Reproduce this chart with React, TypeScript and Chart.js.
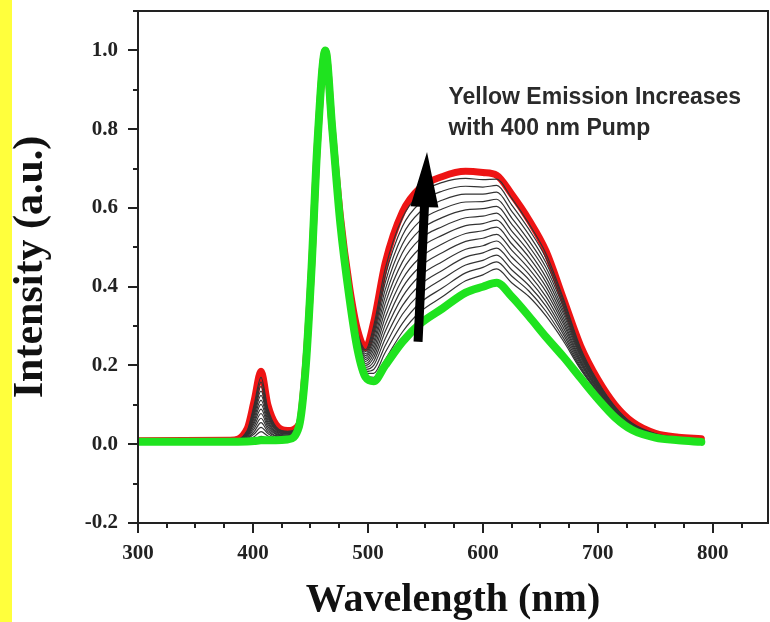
import React, { useEffect, useRef } from "react";
import { Chart, registerables } from "chart.js";

Chart.register(...registerables);

// Wavelength grid (nm) shared by all spectra
const wavelengths = [300, 380, 395, 401, 407, 413, 420, 430, 440, 446, 451, 456, 463, 469, 476, 484, 491, 498, 505, 515, 530, 545, 565, 585, 600, 612, 625, 640, 655, 670, 685, 700, 715, 730, 750, 770, 790];

// Highest spectrum (red)
const redSpectrum = [0.009, 0.01, 0.04, 0.11, 0.185, 0.10, 0.05, 0.035, 0.05, 0.21, 0.45, 0.76, 1.0, 0.8, 0.58, 0.40, 0.29, 0.245, 0.31, 0.46, 0.59, 0.65, 0.68, 0.693, 0.69, 0.683, 0.635, 0.57, 0.49, 0.37, 0.25, 0.165, 0.10, 0.057, 0.028, 0.018, 0.014];

// Lowest spectrum (green)
const greenSpectrum = [0.006, 0.006, 0.007, 0.008, 0.01, 0.01, 0.01, 0.012, 0.045, 0.2, 0.45, 0.76, 1.0, 0.8, 0.56, 0.37, 0.24, 0.17, 0.16, 0.2, 0.26, 0.305, 0.345, 0.385, 0.40, 0.41, 0.375, 0.325, 0.272, 0.222, 0.168, 0.115, 0.068, 0.036, 0.017, 0.01, 0.006];

// Intermediate spectra (gray)
const gray01 = [0.009, 0.009, 0.010, 0.012, 0.020, 0.015, 0.012, 0.014, 0.048, 0.2, 0.45, 0.76, 1.0, 0.8, 0.57, 0.38, 0.245, 0.175, 0.17, 0.215, 0.285, 0.335, 0.375, 0.415, 0.430, 0.445, 0.410, 0.375, 0.325, 0.262, 0.190, 0.130, 0.076, 0.040, 0.020, 0.012, 0.008];
const gray02 = [0.009, 0.009, 0.012, 0.019, 0.032, 0.021, 0.015, 0.015, 0.048, 0.2, 0.45, 0.76, 1.0, 0.8, 0.57, 0.38, 0.248, 0.180, 0.18, 0.233, 0.307, 0.358, 0.397, 0.435, 0.449, 0.463, 0.427, 0.389, 0.337, 0.270, 0.194, 0.132, 0.077, 0.041, 0.021, 0.012, 0.008];
const gray03 = [0.009, 0.009, 0.014, 0.026, 0.043, 0.027, 0.017, 0.017, 0.048, 0.2, 0.45, 0.76, 1.0, 0.8, 0.57, 0.38, 0.251, 0.185, 0.19, 0.250, 0.330, 0.381, 0.420, 0.455, 0.467, 0.480, 0.443, 0.403, 0.350, 0.279, 0.198, 0.134, 0.079, 0.042, 0.021, 0.013, 0.009];
const gray04 = [0.009, 0.009, 0.016, 0.032, 0.055, 0.032, 0.020, 0.018, 0.048, 0.2, 0.45, 0.76, 1.0, 0.8, 0.57, 0.38, 0.254, 0.190, 0.20, 0.268, 0.352, 0.404, 0.442, 0.475, 0.486, 0.498, 0.460, 0.418, 0.362, 0.287, 0.203, 0.137, 0.080, 0.043, 0.022, 0.013, 0.009];
const gray05 = [0.009, 0.009, 0.018, 0.039, 0.066, 0.038, 0.022, 0.020, 0.048, 0.2, 0.45, 0.76, 1.0, 0.8, 0.57, 0.38, 0.257, 0.195, 0.21, 0.286, 0.374, 0.427, 0.464, 0.495, 0.504, 0.516, 0.476, 0.432, 0.374, 0.296, 0.207, 0.139, 0.082, 0.044, 0.022, 0.013, 0.009];
const gray06 = [0.009, 0.009, 0.020, 0.046, 0.078, 0.044, 0.025, 0.021, 0.048, 0.2, 0.45, 0.76, 1.0, 0.8, 0.57, 0.38, 0.260, 0.200, 0.22, 0.303, 0.397, 0.450, 0.487, 0.515, 0.523, 0.533, 0.493, 0.446, 0.387, 0.305, 0.211, 0.141, 0.083, 0.045, 0.023, 0.014, 0.010];
const gray07 = [0.009, 0.009, 0.022, 0.053, 0.089, 0.050, 0.027, 0.023, 0.048, 0.2, 0.45, 0.76, 1.0, 0.8, 0.57, 0.38, 0.263, 0.205, 0.23, 0.321, 0.419, 0.473, 0.509, 0.535, 0.542, 0.551, 0.509, 0.460, 0.399, 0.313, 0.215, 0.143, 0.085, 0.046, 0.023, 0.014, 0.010];
const gray08 = [0.009, 0.009, 0.023, 0.059, 0.101, 0.055, 0.030, 0.024, 0.048, 0.2, 0.45, 0.76, 1.0, 0.8, 0.57, 0.39, 0.267, 0.210, 0.24, 0.339, 0.441, 0.497, 0.531, 0.555, 0.560, 0.569, 0.526, 0.475, 0.411, 0.322, 0.220, 0.146, 0.086, 0.047, 0.024, 0.015, 0.011];
const gray09 = [0.009, 0.009, 0.025, 0.066, 0.112, 0.061, 0.032, 0.026, 0.048, 0.2, 0.45, 0.76, 1.0, 0.8, 0.57, 0.39, 0.270, 0.215, 0.25, 0.357, 0.463, 0.520, 0.553, 0.575, 0.579, 0.587, 0.542, 0.489, 0.423, 0.331, 0.224, 0.148, 0.088, 0.048, 0.024, 0.015, 0.011];
const gray10 = [0.009, 0.009, 0.027, 0.073, 0.124, 0.067, 0.035, 0.027, 0.048, 0.2, 0.45, 0.76, 1.0, 0.8, 0.57, 0.39, 0.273, 0.220, 0.26, 0.374, 0.486, 0.543, 0.576, 0.595, 0.598, 0.604, 0.559, 0.503, 0.436, 0.339, 0.228, 0.150, 0.089, 0.049, 0.025, 0.015, 0.011];
const gray11 = [0.009, 0.009, 0.029, 0.080, 0.135, 0.073, 0.037, 0.029, 0.048, 0.2, 0.45, 0.76, 1.0, 0.8, 0.57, 0.39, 0.276, 0.225, 0.27, 0.392, 0.508, 0.566, 0.598, 0.615, 0.616, 0.622, 0.575, 0.517, 0.448, 0.348, 0.232, 0.152, 0.091, 0.050, 0.025, 0.016, 0.012];
const gray12 = [0.009, 0.009, 0.031, 0.086, 0.147, 0.078, 0.040, 0.030, 0.048, 0.2, 0.45, 0.76, 1.0, 0.8, 0.57, 0.39, 0.279, 0.230, 0.28, 0.410, 0.530, 0.589, 0.620, 0.635, 0.635, 0.640, 0.592, 0.532, 0.460, 0.356, 0.236, 0.155, 0.092, 0.051, 0.026, 0.016, 0.012];
const gray13 = [0.009, 0.009, 0.033, 0.093, 0.158, 0.084, 0.042, 0.032, 0.048, 0.2, 0.45, 0.76, 1.0, 0.8, 0.57, 0.39, 0.282, 0.235, 0.29, 0.427, 0.553, 0.612, 0.643, 0.655, 0.653, 0.657, 0.608, 0.546, 0.472, 0.364, 0.240, 0.157, 0.094, 0.052, 0.026, 0.017, 0.013];
const gray14 = [0.009, 0.009, 0.035, 0.100, 0.170, 0.090, 0.045, 0.033, 0.048, 0.2, 0.45, 0.76, 1.0, 0.8, 0.57, 0.39, 0.285, 0.240, 0.30, 0.445, 0.575, 0.635, 0.665, 0.675, 0.672, 0.673, 0.625, 0.560, 0.483, 0.370, 0.244, 0.159, 0.095, 0.053, 0.027, 0.017, 0.013];

const grayCurves = [gray01, gray02, gray03, gray04, gray05, gray06, gray07, gray08, gray09, gray10, gray11, gray12, gray13, gray14];

// Axis ticks
const xTickValues = [300, 400, 500, 600, 700, 800];
const yTickValues = [-0.2, 0.0, 0.2, 0.4, 0.6, 0.8, 1.0];
const xMinorStep = 25;
const yMinorStep = 0.1;

// Text
const xTitle = "Wavelength (nm)";
const yTitle = "Intensity (a.u.)";
const annotationLines = ["Yellow Emission Increases", "with 400 nm Pump"];

const SERIF = "'Liberation Serif', 'Times New Roman', serif";
const SANS = "'Liberation Sans', Arial, sans-serif";

const toPoints = (arr: number[]) => arr.map((v, i) => ({ x: wavelengths[i], y: v }));

const decorPlugin = {
  id: "decor",
  beforeDraw(chart: any) {
    const { ctx, width, height } = chart;
    ctx.save();
    ctx.fillStyle = "#ffffff";
    ctx.fillRect(0, 0, width, height);
    ctx.fillStyle = "#ffff3c";
    ctx.fillRect(0, 0, 12, height);
    ctx.restore();
  },
  afterDatasetsDraw(chart: any) {
    const { ctx } = chart;
    const xs = chart.scales.x;
    const ys = chart.scales.y;
    // Arrow
    const x0 = xs.getPixelForValue(543.6);
    const y0 = ys.getPixelForValue(0.26);
    const x1 = xs.getPixelForValue(551.4);
    const y1 = ys.getPixelForValue(0.742);
    const dx = x1 - x0;
    const dy = y1 - y0;
    const len = Math.hypot(dx, dy);
    const ux = dx / len;
    const uy = dy / len;
    const px = -uy;
    const py = ux;
    const headLen = 55;
    const headHalf = 14;
    const shaftHalf = 4.5;
    const bx = x1 - ux * headLen;
    const by = y1 - uy * headLen;
    ctx.save();
    ctx.fillStyle = "#000000";
    ctx.beginPath();
    ctx.moveTo(x0 + px * shaftHalf, y0 + py * shaftHalf);
    ctx.lineTo(bx + px * shaftHalf, by + py * shaftHalf);
    ctx.lineTo(bx + px * headHalf, by + py * headHalf);
    ctx.lineTo(x1, y1);
    ctx.lineTo(bx - px * headHalf, by - py * headHalf);
    ctx.lineTo(bx - px * shaftHalf, by - py * shaftHalf);
    ctx.lineTo(x0 - px * shaftHalf, y0 - py * shaftHalf);
    ctx.closePath();
    ctx.fill();
    // Annotation text
    ctx.fillStyle = "#2a2a2a";
    ctx.font = `bold 23px ${SANS}`;
    ctx.textAlign = "left";
    ctx.textBaseline = "alphabetic";
    ctx.fillText(annotationLines[0], xs.getPixelForValue(570), ys.getPixelForValue(0.864));
    ctx.fillText(annotationLines[1], xs.getPixelForValue(570), ys.getPixelForValue(0.785));
    ctx.restore();
  },
  afterDraw(chart: any) {
    const { ctx, chartArea } = chart;
    const xs = chart.scales.x;
    const ys = chart.scales.y;
    ctx.save();
    ctx.strokeStyle = "#222222";
    ctx.lineWidth = 2;
    ctx.strokeRect(chartArea.left, chartArea.top, chartArea.right - chartArea.left, chartArea.bottom - chartArea.top);
    ctx.beginPath();
    for (let v = xs.min; v <= xs.max + 1e-6; v += xMinorStep) {
      const major = xTickValues.some((t) => Math.abs(t - v) < 1e-6);
      const p = Math.round(xs.getPixelForValue(v));
      ctx.moveTo(p, chartArea.bottom);
      ctx.lineTo(p, chartArea.bottom + (major ? 10 : 5));
    }
    for (let i = 0; ; i++) {
      const v = ys.min + i * yMinorStep;
      if (v > ys.max + 1e-6) break;
      const major = yTickValues.some((t) => Math.abs(t - v) < 1e-6);
      const p = Math.round(ys.getPixelForValue(v));
      ctx.moveTo(chartArea.left, p);
      ctx.lineTo(chartArea.left - (major ? 10 : 5), p);
    }
    ctx.stroke();
    ctx.restore();
  },
};

export default function App() {
  const canvasRef = useRef<HTMLCanvasElement | null>(null);

  useEffect(() => {
    if (!canvasRef.current) return;
    const datasets: any[] = [];
    datasets.push({
      label: "green",
      data: toPoints(greenSpectrum),
      borderColor: "#1fe31f",
      borderWidth: 8,
      pointRadius: 0,
      cubicInterpolationMode: "monotone",
      order: 0,
    });
    grayCurves.forEach((g, i) => {
      datasets.push({
        label: `gray${i + 1}`,
        data: toPoints(g),
        borderColor: "#333333",
        borderWidth: 1.2,
        pointRadius: 0,
        cubicInterpolationMode: "monotone",
        order: 1,
      });
    });
    datasets.push({
      label: "red",
      data: toPoints(redSpectrum),
      borderColor: "#ee1414",
      borderWidth: 7,
      pointRadius: 0,
      cubicInterpolationMode: "monotone",
      order: 2,
    });

    const chart = new Chart(canvasRef.current, {
      type: "line",
      data: { datasets },
      plugins: [decorPlugin],
      options: {
        animation: false,
        responsive: false,
        maintainAspectRatio: false,
        layout: { padding: { top: 11, right: 2, left: 0, bottom: 0 } },
        plugins: { legend: { display: false }, tooltip: { enabled: false } },
        elements: { line: { borderCapStyle: "round", borderJoinStyle: "round" } },
        scales: {
          x: {
            type: "linear",
            min: 300,
            max: 848,
            afterBuildTicks: (s: any) => {
              s.ticks = xTickValues.map((v) => ({ value: v }));
            },
            afterFit: (s: any) => {
              s.height = 99;
              s.paddingLeft = 0;
              s.paddingRight = 0;
            },
            grid: { display: false, drawTicks: false },
            border: { display: false },
            ticks: {
              autoSkip: false,
              maxRotation: 0,
              padding: 18,
              color: "#222",
              font: { family: SERIF, size: 21, weight: "bold" },
            },
            title: {
              display: true,
              text: xTitle,
              color: "#111",
              font: { family: SERIF, size: 40, weight: "bold", lineHeight: 1.05 },
              padding: { top: 0, bottom: 0 },
            },
          },
          y: {
            type: "linear",
            min: -0.2,
            max: 1.1,
            afterBuildTicks: (s: any) => {
              s.ticks = yTickValues.map((v) => ({ value: v }));
            },
            afterFit: (s: any) => {
              s.width = 138;
              s.paddingTop = 0;
              s.paddingBottom = 0;
            },
            grid: { display: false, drawTicks: false },
            border: { display: false },
            ticks: {
              padding: 20,
              color: "#222",
              font: { family: SERIF, size: 21, weight: "bold" },
              callback: (v: any) => Number(v).toFixed(1),
            },
            title: {
              display: true,
              text: yTitle,
              color: "#111",
              font: { family: SERIF, size: 42, weight: "bold" },
              padding: { top: 6, bottom: 0 },
            },
          },
        },
      } as any,
    });
    return () => chart.destroy();
  }, []);

  return (
    <div style={{ position: "fixed", left: 0, top: 0, width: 770, height: 622, background: "#fff" }}>
      <canvas ref={canvasRef} width={770} height={622} style={{ display: "block", width: 770, height: 622 }} />
    </div>
  );
}
